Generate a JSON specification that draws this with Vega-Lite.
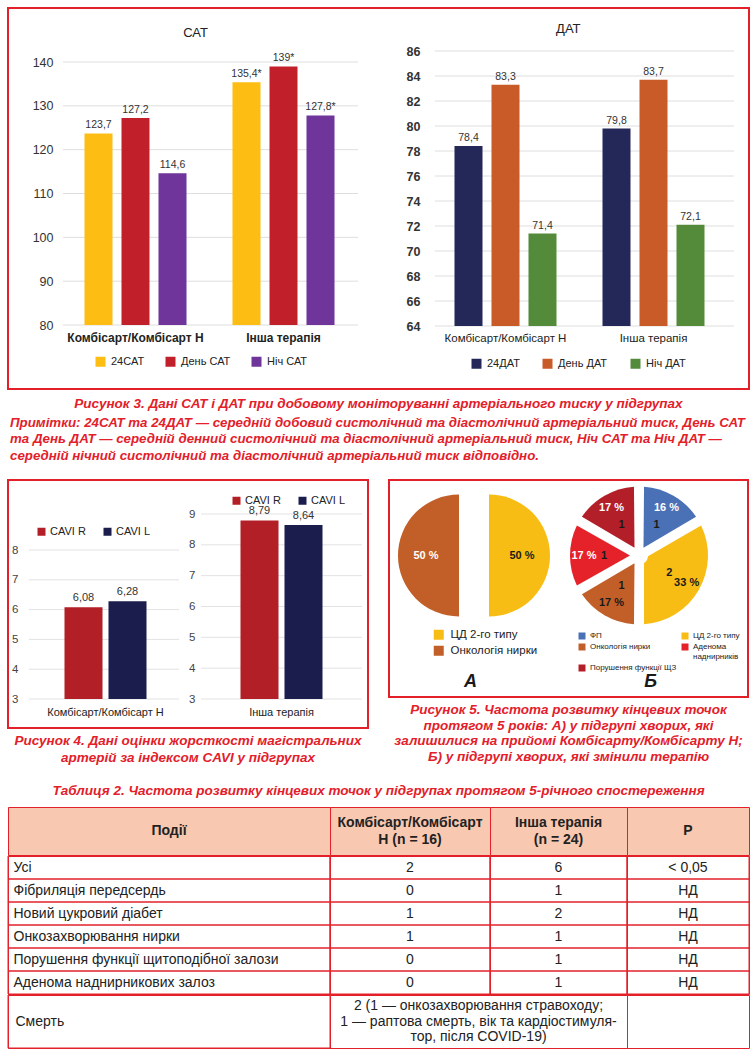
{
  "$schema": "https://vega.github.io/schema/vega-lite/v6.json",
  "background": "white",
  "padding": {"left": 7, "top": 7, "right": 0, "bottom": 0},
  "config": {
    "font": "Liberation Sans",
    "view": {"stroke": null},
    "axis": {"zindex": 1, "labelFont": "Liberation Sans", "minExtent": 0, "labelOverlap": false},
    "title": {"color": "#e3202a", "font": "Liberation Sans", "fontStyle": "italic", "fontWeight": "bold", "fontSize": 13.5}
  },
  "datasets": {
    "tbl": [
      {"event": "Усі", "k": 2, "other": 6, "p": "< 0,05"},
      {"event": "Фібриляція передсердь", "k": 0, "other": 1, "p": "НД"},
      {"event": "Новий цукровий діабет", "k": 1, "other": 2, "p": "НД"},
      {"event": "Онкозахворювання нирки", "k": 1, "other": 1, "p": "НД"},
      {"event": "Порушення функції щитоподібної залози", "k": 0, "other": 1, "p": "НД"},
      {"event": "Аденома наднирникових залоз", "k": 0, "other": 1, "p": "НД"}
    ]
  },
  "spacing": 18,
  "vconcat": [
    {
      "spacing": 3,
      "vconcat": [
        {
          "width": 741,
          "height": 381,
          "view": {"stroke": "#e3202a", "strokeWidth": 2},
          "title": {"text": "Рисунок 3. Дані САТ і ДАТ при добовому моніторуванні артеріального тиску у підгрупах", "orient": "bottom", "anchor": "middle", "offset": 8},
          "encoding": {
            "x": {"type": "nominal",
              "scale": {"domain": ["_a", "_b", "САТ|Комбісарт/Комбісарт Н|24", "САТ|Комбісарт/Комбісарт Н|День", "САТ|Комбісарт/Комбісарт Н|Ніч", "_c", "САТ|Інша терапія|24", "САТ|Інша терапія|День", "САТ|Інша терапія|Ніч", "_d", "_e", "_f", "ДАТ|Комбісарт/Комбісарт Н|24", "ДАТ|Комбісарт/Комбісарт Н|День", "ДАТ|Комбісарт/Комбісарт Н|Ніч", "_g", "ДАТ|Інша терапія|24", "ДАТ|Інша терапія|День", "ДАТ|Інша терапія|Ніч", "_h"], "range": [-2, 738], "paddingInner": 0.243, "paddingOuter": 0.1215},
              "axis": {"orient": "bottom", "offset": -57, "title": null, "domain": false, "ticks": false, "tickSize": 0, "labelPadding": 0, "labelAngle": 0, "labelLimit": 300, "labelColor": "#222", "labelFontSize": {"condition": {"test": "indexof(datum.value, 'САТ') == 0", "value": 12}, "value": 11.5}, "labelExpr": "indexof(datum.label, '|День') > 0 ? split(datum.label, '|')[1] : ''", "labelFontWeight": {"condition": {"test": "indexof(datum.value, 'САТ') == 0", "value": "bold"}, "value": "normal"}}}
          },
          "layer": [
            {
              "data": {"values": [
                {"slot": "САТ|Комбісарт/Комбісарт Н|24", "metric": "24САТ", "value": 123.7, "label": "123,7"},
                {"slot": "САТ|Комбісарт/Комбісарт Н|День", "metric": "День САТ", "value": 127.2, "label": "127,2"},
                {"slot": "САТ|Комбісарт/Комбісарт Н|Ніч", "metric": "Ніч САТ", "value": 114.6, "label": "114,6"},
                {"slot": "САТ|Інша терапія|24", "metric": "24САТ", "value": 135.4, "label": "135,4*"},
                {"slot": "САТ|Інша терапія|День", "metric": "День САТ", "value": 139, "label": "139*"},
                {"slot": "САТ|Інша терапія|Ніч", "metric": "Ніч САТ", "value": 127.8, "label": "127,8*"}
              ]},
              "encoding": {
                "y": {"type": "quantitative", "scale": {"domain": [65.4, 152.32], "zero": false, "nice": false},
                  "axis": {"orient": "left", "offset": -49, "values": [80, 90, 100, 110, 120, 130, 140], "domain": false, "ticks": false, "tickSize": 0, "grid": false, "title": null, "labelPadding": 4, "labelFontSize": 12.5, "labelColor": "#333", "zindex": 1}}
              },
              "layer": [
                {
                  "data": {"values": [{"tick": 80}, {"tick": 90}, {"tick": 100}, {"tick": 110}, {"tick": 120}, {"tick": 130}, {"tick": 140}]},
                  "mark": {"type": "rule", "color": "#dedede", "strokeWidth": 1},
                  "encoding": {
                    "x": {"datum": "_b", "bandPosition": 0.55},
                    "x2": {"datum": "_d", "bandPosition": 0.52},
                    "y": {"field": "tick"}
                  }
                },
                {
                  "mark": {"type": "bar"},
                  "encoding": {
                    "x": {"field": "slot"},
                    "y": {"field": "value"},
                    "y2": {"datum": 80},
                    "color": {"field": "metric", "type": "nominal",
                      "scale": {"domain": ["24САТ", "День САТ", "Ніч САТ"], "range": ["#fdbd12", "#c1202b", "#6f359a"]},
                      "legend": {"orient": "none", "legendX": 87, "legendY": 348, "direction": "horizontal", "title": null, "symbolType": "square", "symbolSize": 100, "symbolStrokeWidth": 0, "labelFontSize": 11, "labelColor": "#222", "labelOffset": 5, "columnPadding": 20, "padding": 0}}
                  }
                },
                {
                  "mark": {"type": "text", "baseline": "bottom", "dy": -3, "fontSize": 10.5, "color": "#333"},
                  "encoding": {
                    "x": {"field": "slot"},
                    "y": {"field": "value"},
                    "text": {"field": "label"}
                  }
                },
                {
                  "data": {"values": [{"t": "САТ"}]},
                  "mark": {"type": "text", "fontSize": 13, "color": "#222"},
                  "encoding": {
                    "x": {"datum": "_c", "bandPosition": 0},
                    "y": {"datum": 146.6},
                    "text": {"field": "t"}
                  }
                }
              ]
            },
            {
              "data": {"values": [
                {"slot": "ДАТ|Комбісарт/Комбісарт Н|24", "metric": "24ДАТ", "value": 78.4, "label": "78,4"},
                {"slot": "ДАТ|Комбісарт/Комбісарт Н|День", "metric": "День ДАТ", "value": 83.3, "label": "83,3"},
                {"slot": "ДАТ|Комбісарт/Комбісарт Н|Ніч", "metric": "Ніч ДАТ", "value": 71.4, "label": "71,4"},
                {"slot": "ДАТ|Інша терапія|24", "metric": "24ДАТ", "value": 79.8, "label": "79,8"},
                {"slot": "ДАТ|Інша терапія|День", "metric": "День ДАТ", "value": 83.7, "label": "83,7"},
                {"slot": "ДАТ|Інша терапія|Ніч", "metric": "Ніч ДАТ", "value": 72.1, "label": "72,1"}
              ]},
              "encoding": {
                "y": {"type": "quantitative", "scale": {"domain": [58.96, 89.44], "zero": false, "nice": false},
                  "axis": {"orient": "left", "offset": -416, "values": [64, 66, 68, 70, 72, 74, 76, 78, 80, 82, 84, 86], "domain": false, "ticks": false, "tickSize": 0, "grid": false, "title": null, "labelPadding": 4, "labelFontSize": 12.5, "labelFontWeight": "bold", "labelColor": "#333", "zindex": 1}}
              },
              "layer": [
                {
                  "data": {"values": [{"tick": 64}, {"tick": 66}, {"tick": 68}, {"tick": 70}, {"tick": 72}, {"tick": 74}, {"tick": 76}, {"tick": 78}, {"tick": 80}, {"tick": 82}, {"tick": 84}, {"tick": 86}]},
                  "mark": {"type": "rule", "color": "#dedede", "strokeWidth": 1},
                  "encoding": {
                    "x": {"datum": "_f", "bandPosition": 0.62},
                    "x2": {"datum": "_h", "bandPosition": 0.73},
                    "y": {"field": "tick"}
                  }
                },
                {
                  "mark": {"type": "bar"},
                  "encoding": {
                    "x": {"field": "slot"},
                    "y": {"field": "value"},
                    "y2": {"datum": 64},
                    "color": {"field": "metric", "type": "nominal",
                      "scale": {"domain": ["24ДАТ", "День ДАТ", "Ніч ДАТ"], "range": ["#232859", "#c85b27", "#548b3b"]},
                      "legend": {"orient": "none", "legendX": 463, "legendY": 350, "direction": "horizontal", "title": null, "symbolType": "square", "symbolSize": 100, "symbolStrokeWidth": 0, "labelFontSize": 11, "labelColor": "#222", "labelOffset": 5, "columnPadding": 22, "padding": 0}}
                  }
                },
                {
                  "mark": {"type": "text", "baseline": "bottom", "dy": -3, "fontSize": 10.5, "color": "#333"},
                  "encoding": {
                    "x": {"field": "slot"},
                    "y": {"field": "value"},
                    "text": {"field": "label"}
                  }
                },
                {
                  "data": {"values": [{"t": "ДАТ"}]},
                  "mark": {"type": "text", "fontSize": 13, "color": "#222"},
                  "encoding": {
                    "x": {"datum": "_g", "bandPosition": 0.1},
                    "y": {"datum": 87.76},
                    "text": {"field": "t"}
                  }
                }
              ]
            }
          ],
          "resolve": {"scale": {"y": "independent", "color": "independent"}, "axis": {"y": "independent"}, "legend": {"color": "independent"}}
        },
        {
          "title": {"text": ["Примітки: 24САТ та 24ДАТ — середній добовий систолічний та діастолічний артеріальний тиск, День САТ", "та День ДАТ — середній денний систолічний та діастолічний артеріальний тиск, Ніч САТ та Ніч ДАТ —", "середній нічний систолічний та діастолічний артеріальний тиск відповідно."], "orient": "top", "anchor": "start", "offset": 17, "lineHeight": 16.5, "dx": 3, "fontSize": 13.3},
          "spacing": 18,
          "hconcat": [
            {
              "width": 360,
              "height": 248,
              "view": {"stroke": "#e3202a", "strokeWidth": 2},
              "title": {"text": ["Рисунок 4. Дані оцінки жорсткості магістральних", "артерій за індексом CAVI у підгрупах"], "orient": "bottom", "anchor": "middle", "offset": 6, "lineHeight": 17},
              "encoding": {
                "x": {"type": "nominal",
                  "scale": {"domain": ["_a", "Комбісарт/Комбісарт Н|CAVI R", "Комбісарт/Комбісарт Н|CAVI L", "_b", "_c", "Інша терапія|CAVI R", "Інша терапія|CAVI L", "_d"], "range": [9.5, 361.5], "paddingInner": 0.136, "paddingOuter": 0.068},
                  "axis": {"orient": "bottom", "offset": -22, "labelPadding": 0, "domain": false, "ticks": false, "tickSize": 0, "title": null, "labelAngle": 0, "labelFontSize": 11, "labelColor": "#222", "labelOffset": 22, "labelLimit": 300, "labelExpr": "indexof(datum.label, '|CAVI R') > 0 ? split(datum.label, '|')[0] : ''"}}
              },
              "layer": [
                {
                  "data": {"values": [
                    {"slot": "Комбісарт/Комбісарт Н|CAVI R", "side": "CAVI R", "value": 6.08, "label": "6,08"},
                    {"slot": "Комбісарт/Комбісарт Н|CAVI L", "side": "CAVI L", "value": 6.28, "label": "6,28"}
                  ]},
                  "encoding": {
                    "y": {"type": "quantitative", "scale": {"domain": [2.027, 10.349], "zero": false, "nice": false},
                      "axis": {"orient": "left", "offset": -14, "values": [3, 4, 5, 6, 7, 8], "domain": false, "ticks": false, "tickSize": 0, "grid": false, "title": null, "labelPadding": 4, "labelFontSize": 11.5, "labelColor": "#444", "zindex": 1}}
                  },
                  "layer": [
                    {
                      "data": {"values": [{"tick": 3}, {"tick": 4}, {"tick": 5}, {"tick": 6}, {"tick": 7}, {"tick": 8}]},
                      "mark": {"type": "rule", "color": "#e2e2e2"},
                      "encoding": {
                        "x": {"datum": "_a", "bandPosition": 0.22},
                        "x2": {"datum": "_b", "bandPosition": 0.7},
                        "y": {"field": "tick"}
                      }
                    },
                    {
                      "mark": {"type": "bar"},
                      "encoding": {
                        "x": {"field": "slot"},
                        "y": {"field": "value"},
                        "y2": {"datum": 3},
                        "color": {"field": "side", "type": "nominal", "scale": {"domain": ["CAVI R", "CAVI L"], "range": ["#b21f26", "#1b1d4d"]},
                          "legend": {"orient": "none", "legendX": 28, "legendY": 46, "direction": "horizontal", "title": null, "symbolType": "square", "symbolSize": 64, "symbolStrokeWidth": 0, "labelFontSize": 11, "labelColor": "#222", "labelOffset": 3, "columnPadding": 16, "padding": 0}}
                      }
                    },
                    {
                      "mark": {"type": "text", "baseline": "bottom", "dy": -4, "fontSize": 11, "color": "#333"},
                      "encoding": {
                        "x": {"field": "slot"},
                        "y": {"field": "value"},
                        "text": {"field": "label"}
                      }
                    }
                  ]
                },
                {
                  "data": {"values": [
                    {"slot": "Інша терапія|CAVI R", "side": "CAVI R", "value": 8.79, "label": "8,79"},
                    {"slot": "Інша терапія|CAVI L", "side": "CAVI L", "value": 8.64, "label": "8,64"}
                  ]},
                  "encoding": {
                    "y": {"type": "quantitative", "scale": {"domain": [2.0595, 10.1027], "zero": false, "nice": false},
                      "axis": {"orient": "left", "offset": -191, "values": [3, 4, 5, 6, 7, 8, 9], "domain": false, "ticks": false, "tickSize": 0, "grid": false, "title": null, "labelPadding": 4, "labelFontSize": 11.5, "labelColor": "#444", "zindex": 1}}
                  },
                  "layer": [
                    {
                      "data": {"values": [{"tick": 3}, {"tick": 4}, {"tick": 5}, {"tick": 6}, {"tick": 7}, {"tick": 8}, {"tick": 9}]},
                      "mark": {"type": "rule", "color": "#e2e2e2"},
                      "encoding": {
                        "x": {"datum": "_c", "bandPosition": 0.12},
                        "x2": {"datum": "_d", "bandPosition": 0.88},
                        "y": {"field": "tick"}
                      }
                    },
                    {
                      "mark": {"type": "bar"},
                      "encoding": {
                        "x": {"field": "slot"},
                        "y": {"field": "value"},
                        "y2": {"datum": 3},
                        "color": {"field": "side", "type": "nominal", "scale": {"domain": ["CAVI R", "CAVI L"], "range": ["#b21f26", "#1b1d4d"]},
                          "legend": {"orient": "none", "legendX": 223, "legendY": 15, "direction": "horizontal", "title": null, "symbolType": "square", "symbolSize": 64, "symbolStrokeWidth": 0, "labelFontSize": 11, "labelColor": "#222", "labelOffset": 3, "columnPadding": 16, "padding": 0}}
                      }
                    },
                    {
                      "mark": {"type": "text", "baseline": "bottom", "dy": -4, "fontSize": 11, "color": "#333"},
                      "encoding": {
                        "x": {"field": "slot"},
                        "y": {"field": "value"},
                        "text": {"field": "label"}
                      }
                    }
                  ]
                }
              ],
              "resolve": {"scale": {"y": "independent", "color": "independent"}, "axis": {"y": "independent"}, "legend": {"color": "independent"}}
            },
            {
              "width": 359,
              "height": 217,
              "view": {"stroke": "#e3202a", "strokeWidth": 2},
              "title": {"text": ["Рисунок 5. Частота розвитку кінцевих точок", "протягом 5 років: А) у підгрупі хворих, які", "залишилися на прийомі Комбісарту/Комбісарту Н;", "Б) у підгрупі хворих, які змінили терапію"], "orient": "bottom", "anchor": "middle", "offset": 6, "lineHeight": 15.7},
              "encoding": {
                "x": {"field": "center", "type": "nominal",
                  "scale": {"domain": ["А|Онкологія нирки", "А|ЦД 2-го типу", "_1", "_2", "_3", "_4", "Б"], "range": [55, 265], "paddingInner": 0, "paddingOuter": 0},
                  "axis": {"orient": "bottom", "offset": -25, "labelPadding": 0, "domain": false, "ticks": false, "tickSize": 0, "title": null, "labelAngle": 0, "labelFontSize": 18, "labelFontWeight": "bold", "labelFontStyle": "italic", "labelColor": "#1a1a1a", "labelOffset": 11, "labelExpr": "datum.label == 'А|Онкологія нирки' ? 'А' : (datum.label == 'Б' ? 'Б' : '')"}},
                "y": {"datum": "c", "type": "nominal", "scale": {"domain": ["c"], "range": [0, 151], "paddingInner": 0, "paddingOuter": 0}, "axis": null}
              },
              "layer": [
                {
                  "data": {"values": [
                    {"center": "А|ЦД 2-го типу", "cat": "ЦД 2-го типу", "n": 1, "pct": "50 %", "k": 1},
                    {"center": "А|Онкологія нирки", "cat": "Онкологія нирки", "n": 1, "pct": "50 %", "k": 2}
                  ]},
                  "encoding": {
                    "theta": {"field": "n", "type": "quantitative", "stack": true},
                    "order": {"field": "k", "type": "quantitative"}
                  },
                  "layer": [
                    {
                      "mark": {"type": "arc", "outerRadius": 61},
                      "encoding": {
                        "color": {"field": "cat", "type": "nominal", "scale": {"domain": ["ЦД 2-го типу", "Онкологія нирки"], "range": ["#f8bd14", "#c25f29"]},
                          "legend": {"orient": "none", "legendX": 44, "legendY": 149, "title": null, "symbolType": "square", "symbolSize": 100, "symbolStrokeWidth": 0, "labelFontSize": 11.5, "labelColor": "#222", "labelOffset": 6, "rowPadding": 3, "padding": 0}}
                      }
                    },
                    {
                      "mark": {"type": "text", "radius": 33, "fontWeight": "bold", "fontSize": 11},
                      "encoding": {
                        "text": {"field": "pct"},
                        "color": {"condition": {"test": "datum.cat == 'ЦД 2-го типу'", "value": "#1a1a1a"}, "value": "white"}
                      }
                    }
                  ]
                },
                {
                  "data": {"values": [
                    {"center": "Б", "cat": "ФП", "n": 1, "pct": "16 %", "k": 1},
                    {"center": "Б", "cat": "ЦД 2-го типу", "n": 2, "pct": "33 %", "k": 2},
                    {"center": "Б", "cat": "Онкологія нирки", "n": 1, "pct": "17 %", "k": 3},
                    {"center": "Б", "cat": "Аденома наднирників", "n": 1, "pct": "17 %", "k": 4},
                    {"center": "Б", "cat": "Порушення функції ЩЗ", "n": 1, "pct": "17 %", "k": 5}
                  ]},
                  "encoding": {
                    "theta": {"field": "n", "type": "quantitative", "stack": true},
                    "order": {"field": "k", "type": "quantitative"}
                  },
                  "layer": [
                    {
                      "mark": {"type": "arc", "outerRadius": 69, "innerRadius": 9, "padAngle": 0.145},
                      "encoding": {
                        "color": {"field": "cat", "type": "nominal",
                          "scale": {"domain": ["ФП", "ЦД 2-го типу", "Онкологія нирки", "Аденома наднирників", "Порушення функції ЩЗ"], "range": ["#4a70b6", "#f8bd14", "#c25f29", "#e5222a", "#b31f28"]},
                          "legend": {"orient": "none", "legendX": 189, "legendY": 152, "direction": "horizontal", "columns": 2, "columnPadding": 4, "rowPadding": 3, "title": null, "symbolType": "square", "symbolSize": 49, "symbolStrokeWidth": 0, "labelFontSize": 8, "labelColor": "#222", "labelOffset": 4, "padding": 0, "labelExpr": "datum.label == 'Аденома наднирників' ? ['Аденома', 'наднирників'] : datum.label"}}
                      }
                    },
                    {
                      "mark": {"type": "text", "radius": 55, "fontWeight": "bold", "fontSize": 11},
                      "encoding": {
                        "text": {"field": "pct"},
                        "color": {"condition": {"test": "datum.cat == 'ЦД 2-го типу' || datum.cat == 'Онкологія нирки'", "value": "#1a1a1a"}, "value": "white"}
                      }
                    },
                    {
                      "mark": {"type": "text", "radius": 35, "fontWeight": "bold", "fontSize": 11, "color": "#1a1a1a"},
                      "encoding": {"text": {"field": "n", "type": "quantitative"}}
                    }
                  ]
                }
              ],
              "resolve": {"scale": {"color": "independent", "theta": "independent"}, "legend": {"color": "independent"}}
            }
          ]
        }
      ]
    },
    {
      "title": {"text": "Таблиця 2. Частота розвитку кінцевих точок у підгрупах протягом 5-річного спостереження", "orient": "top", "anchor": "middle", "offset": 9},
      "spacing": -2,
      "vconcat": [
        {
          "spacing": 0,
          "bounds": "flush",
          "hconcat": [
            {"width": 322, "height": 48, "view": {"stroke": "#e3202a", "fill": "#f9c8b0"}, "data": {"values": [{"h": "Події"}]},
              "mark": {"type": "text", "fontWeight": "bold", "fontSize": 14, "color": "#222"}, "encoding": {"text": {"field": "h"}}},
            {"width": 160, "height": 48, "view": {"stroke": "#e3202a", "fill": "#f9c8b0"}, "data": {"values": [{"h": "Комбісарт/Комбісарт\nН (n = 16)"}]},
              "mark": {"type": "text", "fontWeight": "bold", "fontSize": 14, "lineBreak": "\n", "lineHeight": 17, "dy": -8.5, "color": "#222"}, "encoding": {"text": {"field": "h"}}},
            {"width": 137, "height": 48, "view": {"stroke": "#e3202a", "fill": "#f9c8b0"}, "data": {"values": [{"h": "Інша терапія\n(n = 24)"}]},
              "mark": {"type": "text", "fontWeight": "bold", "fontSize": 14, "lineBreak": "\n", "lineHeight": 17, "dy": -8.5, "color": "#222"}, "encoding": {"text": {"field": "h"}}},
            {"width": 122, "height": 48, "view": {"stroke": "#e3202a", "fill": "#f9c8b0"}, "data": {"values": [{"h": "P"}]},
              "mark": {"type": "text", "fontWeight": "bold", "fontSize": 14, "color": "#222"}, "encoding": {"text": {"field": "h"}}}
          ]
        },
        {
          "spacing": 0,
          "bounds": "flush",
          "hconcat": [
            {"width": 322, "height": 138, "view": {"stroke": "#e3202a"}, "data": {"name": "tbl"},
              "mark": {"type": "rect", "fill": "transparent", "stroke": "#e3202a", "strokeWidth": 1},
              "encoding": {"y": {"field": "event", "type": "nominal", "sort": null, "scale": {"paddingInner": 0, "paddingOuter": 0},
                "axis": {"orient": "left", "labelAlign": "left", "labelPadding": -5, "domain": false, "ticks": false, "tickSize": 0, "title": null, "labelFontSize": 14, "labelColor": "#222", "labelLimit": 400, "zindex": 1}}}},
            {"width": 160, "height": 138, "view": {"stroke": "#e3202a"}, "data": {"name": "tbl"},
              "encoding": {"y": {"field": "event", "type": "nominal", "sort": null, "scale": {"paddingInner": 0, "paddingOuter": 0}, "axis": null}},
              "layer": [
                {"mark": {"type": "rect", "fill": "transparent", "stroke": "#e3202a", "strokeWidth": 1}},
                {"mark": {"type": "text", "fontSize": 14, "color": "#222"}, "encoding": {"text": {"field": "k", "type": "quantitative"}}}
              ]},
            {"width": 137, "height": 138, "view": {"stroke": "#e3202a"}, "data": {"name": "tbl"},
              "encoding": {"y": {"field": "event", "type": "nominal", "sort": null, "scale": {"paddingInner": 0, "paddingOuter": 0}, "axis": null}},
              "layer": [
                {"mark": {"type": "rect", "fill": "transparent", "stroke": "#e3202a", "strokeWidth": 1}},
                {"mark": {"type": "text", "fontSize": 14, "color": "#222"}, "encoding": {"text": {"field": "other", "type": "quantitative"}}}
              ]},
            {"width": 122, "height": 138, "view": {"stroke": "#e3202a"}, "data": {"name": "tbl"},
              "encoding": {"y": {"field": "event", "type": "nominal", "sort": null, "scale": {"paddingInner": 0, "paddingOuter": 0}, "axis": null}},
              "layer": [
                {"mark": {"type": "rect", "fill": "transparent", "stroke": "#e3202a", "strokeWidth": 1}},
                {"mark": {"type": "text", "fontSize": 14, "color": "#222"}, "encoding": {"text": {"field": "p", "type": "nominal"}}}
              ]}
          ]
        },
        {
          "spacing": 0,
          "bounds": "flush",
          "hconcat": [
            {"width": 322, "height": 53, "view": {"stroke": "#e3202a"}, "data": {"values": [{"event": "Смерть"}]},
              "mark": {"type": "rect", "fill": "transparent", "stroke": "#e3202a", "strokeWidth": 1},
              "encoding": {"y": {"field": "event", "type": "nominal", "scale": {"paddingInner": 0, "paddingOuter": 0},
                "axis": {"orient": "left", "labelAlign": "left", "labelPadding": -7, "domain": false, "ticks": false, "tickSize": 0, "title": null, "labelFontSize": 14, "labelColor": "#222", "labelLimit": 400, "zindex": 1}}}},
            {"width": 297, "height": 53, "view": {"stroke": "#e3202a"}, "data": {"values": [{"d": "2 (1 — онкозахворювання стравоходу;\n1 — раптова смерть, вік та кардіостимуля-\nтор, після COVID-19)"}]},
              "mark": {"type": "text", "fontSize": 14, "lineBreak": "\n", "lineHeight": 15.5, "dy": -15.5, "color": "#222"}, "encoding": {"text": {"field": "d"}}},
            {"width": 122, "height": 53, "view": {"stroke": "#e3202a"}, "data": {"values": [{"d": ""}]},
              "mark": {"type": "text", "fontSize": 14}, "encoding": {"text": {"field": "d"}}}
          ]
        }
      ]
    }
  ]
}
